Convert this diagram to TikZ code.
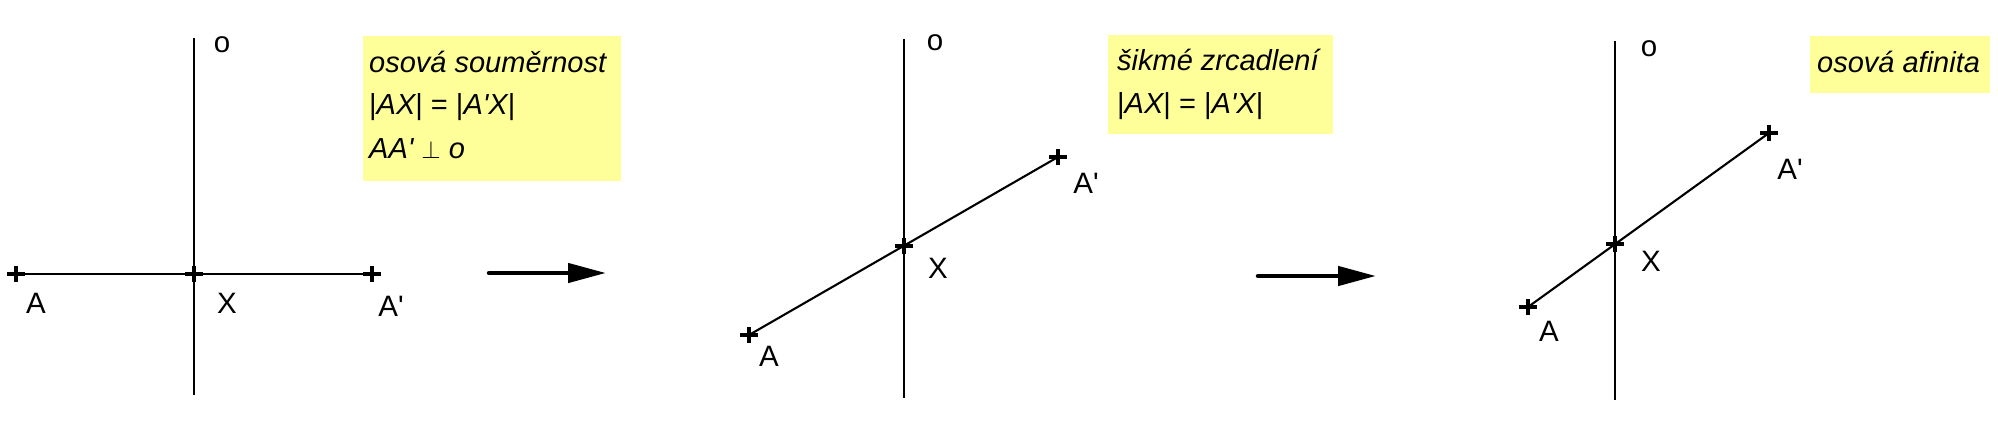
\documentclass[tikz,border=0pt]{standalone}
\usepackage{fontspec}
\setmainfont{Liberation Sans}
\usetikzlibrary{arrows.meta}
\definecolor{boxyellow}{HTML}{FFFF99}
\tikzset{
  axisline/.style={line width=2.6pt},
  segline/.style={line width=2.1pt},
  crossmark/.style={line width=3.6pt},
  bigarrow/.style={line width=4.5pt, line cap=round, -{Triangle[length=38pt,width=19pt]}},
  lbl/.style={anchor=base, inner sep=0pt, font=\fontsize{29.5}{34}\selectfont},
  boxtxt/.style={anchor=base west, inner sep=0pt, font=\fontsize{29}{34}\selectfont\itshape},
  notebox/.style={fill=boxyellow, draw=none}
}
\newcommand{\crossat}[1]{\draw[crossmark] (#1) ++(-9,0) -- ++(18,0) (#1) ++(0,-8) -- ++(0,16);}
\newcommand{\prm}{\textquotesingle}
\begin{document}
\begin{tikzpicture}[x=1pt,y=-1pt]
\useasboundingbox (0,0) rectangle (1998,437);
\fill[white] (0,0) rectangle (1998,437);

% ---------- panel 1 ----------
\fill[notebox] (363,36) rectangle (621,181);
\node[boxtxt] (t11) at (369,72) {osová souměrnost};
\node[boxtxt] (t12) at (369,114) {{\upshape|}AX{\upshape|} {\upshape=} {\upshape|}A\prm X{\upshape|}};
\node[boxtxt] (t13) at (369,158) {AA\prm\ {\upshape\fontsize{24}{28}\selectfont$\perp$} o};
\coordinate (o1t) at (194,38);
\coordinate (o1b) at (194,395);
\coordinate (A1) at (16,274);
\coordinate (X1) at (194,274);
\coordinate (B1) at (372,274);
\draw[axisline] (o1t) -- (o1b);
\draw[segline] (A1) -- (B1);
\crossat{A1}\crossat{X1}\crossat{B1}
\node[lbl] (lo1) at (222,52) {o};
\node[lbl] (lA1) at (36,313) {A};
\node[lbl] (lX1) at (227,313) {X};
\node[lbl] (lB1) at (391,316) {A\prm};
\coordinate (ar1s) at (489,273);
\coordinate (ar1e) at (606,273);
\draw[bigarrow] (ar1s) -- (ar1e);

% ---------- panel 2 ----------
\fill[notebox] (1108,35) rectangle (1333,134);
\node[boxtxt] (t21) at (1117,70) {šikmé zrcadlení};
\node[boxtxt] (t22) at (1117,113) {{\upshape|}AX{\upshape|} {\upshape=} {\upshape|}A\prm X{\upshape|}};
\coordinate (o2t) at (904,39);
\coordinate (o2b) at (904,398);
\coordinate (A2) at (749,335);
\coordinate (X2) at (904,246);
\coordinate (B2) at (1058,157);
\draw[axisline] (o2t) -- (o2b);
\draw[segline] (A2) -- (B2);
\crossat{A2}\crossat{X2}\crossat{B2}
\node[lbl] (lo2) at (935,50) {o};
\node[lbl] (lA2) at (769,366) {A};
\node[lbl] (lX2) at (938,278) {X};
\node[lbl] (lB2) at (1086,193) {A\prm};
\coordinate (ar2s) at (1258,276);
\coordinate (ar2e) at (1376,276);
\draw[bigarrow] (ar2s) -- (ar2e);

% ---------- panel 3 ----------
\fill[notebox] (1810,36) rectangle (1990,93);
\node[boxtxt] (t31) at (1817,72) {osová afinita};
\coordinate (o3t) at (1615,41);
\coordinate (o3b) at (1615,400);
\coordinate (A3) at (1528,307);
\coordinate (X3) at (1615,244);
\coordinate (B3) at (1769,133);
\draw[axisline] (o3t) -- (o3b);
\draw[segline] (A3) -- (B3);
\crossat{A3}\crossat{X3}\crossat{B3}
\node[lbl] (lo3) at (1649,56) {o};
\node[lbl] (lA3) at (1549,341) {A};
\node[lbl] (lX3) at (1651,271) {X};
\node[lbl] (lB3) at (1790,179) {A\prm};
\end{tikzpicture}
\end{document}
